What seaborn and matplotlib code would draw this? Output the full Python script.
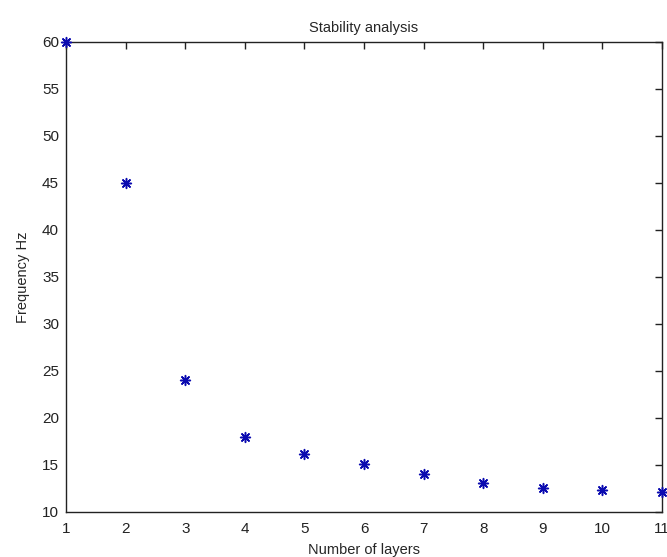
import matplotlib
matplotlib.use("Agg")
import matplotlib.pyplot as plt
import seaborn as sns
import pandas as pd

layers = [1, 2, 3, 4, 5, 6, 7, 8, 9, 10, 11]
freq = [60, 45, 24, 18, 16.2, 15.1, 14.0, 13.1, 12.5, 12.3, 12.1]
xticks = list(range(1, 12))
yticks = [10, 15, 20, 25, 30, 35, 40, 45, 50, 55, 60]

sns.set_style("white")
plt.rcParams['font.family'] = ['Liberation Sans', 'DejaVu Sans']

fig = plt.figure(figsize=(6.67, 5.57), dpi=100)
ax = fig.add_axes([0.099, 0.0808, 0.8935, 0.8438])

df = pd.DataFrame({"layers": layers, "freq": freq})
sns.scatterplot(data=df, x="layers", y="freq", ax=ax, marker=(8, 2, 0),
                s=50, color="#0a0ab0", edgecolor="#0a0ab0", linewidth=1.1,
                clip_on=False, zorder=5)

ax.set_xlim(1, 11)
ax.set_ylim(10, 60)
ax.set_xticks(xticks)
ax.set_yticks(yticks)
ax.tick_params(direction='in', length=5, width=1, top=True, right=True,
               labelsize=11, colors='#222222')
ax.tick_params(axis='x', pad=7)
ax.tick_params(axis='y', pad=5)
for s in ax.spines.values():
    s.set_visible(True)
    s.set_color('#222222')
    s.set_linewidth(1)
ax.set_xlabel("Number of layers", fontsize=10.5, labelpad=5)
ax.set_ylabel("Frequency Hz", fontsize=10.5, labelpad=9)
ax.set_title("Stability analysis", fontsize=10.5, pad=7)

fig.savefig("out.png", dpi=100)
